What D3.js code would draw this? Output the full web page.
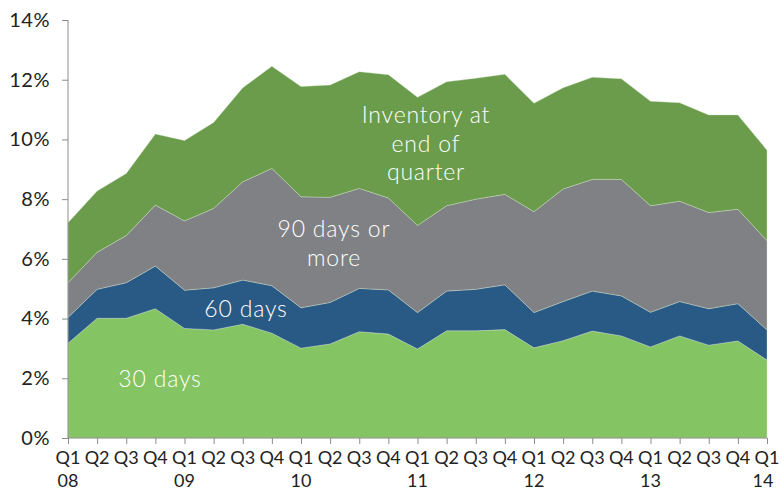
<!DOCTYPE html>
<html lang="en">
<head>
<meta charset="UTF-8">
<title>delinquency stack</title>
<style>
  body { margin: 0; background: #fff; }
  svg text { font-family: "Lato", "DejaVu Sans", sans-serif; }
  .axis path, .axis line { stroke: #8c8c8c; }
</style>
</head>
<body>
<script src="https://d3js.org/d3.v7.min.js"></script>
<svg id="chart"></svg>
<script>
// quarters Q1 08 .. Q1 14
var quarters = ["Q1", "Q2", "Q3", "Q4", "Q1", "Q2", "Q3", "Q4", "Q1", "Q2", "Q3", "Q4",
                "Q1", "Q2", "Q3", "Q4", "Q1", "Q2", "Q3", "Q4", "Q1", "Q2", "Q3", "Q4", "Q1"];
var years = ["08", "", "", "", "09", "", "", "", "10", "", "", "", "11", "", "", "",
             "12", "", "", "", "13", "", "", "", "14"];
var yTicks = [0, 2, 4, 6, 8, 10, 12, 14];

// share of loans (%), one array per layer, bottom to top
var days30 = [3.17, 4.01, 4.01, 4.33, 3.67, 3.62, 3.81, 3.51, 3.01, 3.15, 3.56, 3.48,
              2.98, 3.59, 3.59, 3.63, 3.02, 3.26, 3.58, 3.42, 3.05, 3.42, 3.11, 3.25, 2.61];
var days60 = [0.87, 0.97, 1.19, 1.43, 1.28, 1.41, 1.48, 1.59, 1.35, 1.39, 1.45, 1.48,
              1.22, 1.33, 1.39, 1.50, 1.18, 1.31, 1.34, 1.34, 1.16, 1.15, 1.22, 1.25, 1.01];
var days90 = [1.16, 1.24, 1.58, 2.04, 2.32, 2.66, 3.29, 3.93, 3.72, 3.52, 3.35, 3.08,
              2.92, 2.86, 3.02, 3.03, 3.38, 3.77, 3.74, 3.90, 3.57, 3.36, 3.22, 3.16, 2.99];
var inventory = [2.01, 2.05, 2.08, 2.38, 2.69, 2.88, 3.15, 3.42, 3.69, 3.76, 3.91, 4.13,
                 4.29, 4.15, 4.05, 4.02, 3.63, 3.39, 3.42, 3.37, 3.50, 3.30, 3.27, 3.16, 3.03];

var keys = ["d30", "d60", "d90", "inv"];
var colors = { d30: "#84c462", d60: "#285a85", d90: "#7f8184", inv: "#6a9c4c" };

var rows = quarters.map(function (q, i) {
  return { i: i, d30: days30[i], d60: days60[i], d90: days90[i], inv: inventory[i] };
});

var w = 784, h = 491;
var margin = { left: 68, right: 17, top: 20, bottom: 53 };

var svg = d3.select("#chart").attr("width", w).attr("height", h);

var x = d3.scaleLinear()
  .domain([0, quarters.length - 1])
  .range([margin.left, w - margin.right]);

var y = d3.scaleLinear()
  .domain([0, 14])
  .range([h - margin.bottom, margin.top]);

var series = d3.stack().keys(keys)(rows);

var area = d3.area()
  .x(function (d) { return x(d.data.i); })
  .y0(function (d) { return y(d[0]); })
  .y1(function (d) { return y(d[1]); });

svg.append("g")
  .selectAll("path")
  .data(series)
  .enter().append("path")
  .attr("d", area)
  .attr("fill", function (d) { return colors[d.key]; })
  .attr("stroke", "#d8e8d0")
  .attr("stroke-width", 0.6)
  .attr("stroke-opacity", 0.6);

// y axis
var yAxis = svg.append("g")
  .attr("class", "axis")
  .attr("transform", "translate(" + margin.left + ",0)")
  .call(d3.axisLeft(y).tickValues(yTicks).tickSize(6).tickPadding(12)
    .tickFormat(function (d) { return d + "%"; }));
yAxis.select(".domain").attr("d", "M0," + y(14) + "V" + y(0));
yAxis.selectAll("text")
  .attr("fill", "#222")
  .style("font-size", "20px")
  .style("letter-spacing", "0.5px");

// x axis
var xAxis = svg.append("g")
  .attr("class", "axis")
  .attr("transform", "translate(0," + y(0) + ")")
  .call(d3.axisBottom(x).tickValues(d3.range(quarters.length)).tickSize(6)
    .tickFormat(""));
xAxis.select(".domain").attr("d", "M" + x(0) + ",0H" + x(quarters.length - 1));

var xl = svg.append("g")
  .attr("fill", "#222")
  .style("font-size", "18px");
xl.selectAll("text.q")
  .data(quarters)
  .enter().append("text")
  .attr("class", "q")
  .attr("x", function (d, i) { return x(i); })
  .attr("y", 464)
  .attr("text-anchor", "middle")
  .text(function (d) { return d; });
xl.selectAll("text.yr")
  .data(years)
  .enter().append("text")
  .attr("class", "yr")
  .attr("x", function (d, i) { return x(i) - (i === years.length - 1 ? 4 : 0); })
  .attr("y", 487)
  .attr("text-anchor", "middle")
  .text(function (d) { return d; });

// labels inside the areas
var labels = [
  { lines: ["Inventory at", "end of", "quarter"], cx: 426, y: 123 },
  { lines: ["90 days or", "more"], cx: 334, y: 237 },
  { lines: ["60 days"], cx: 246, y: 317 },
  { lines: ["30 days"], cx: 160, y: 387 }
];
labels.forEach(function (l) {
  var t = svg.append("text")
    .attr("text-anchor", "middle")
    .attr("fill", "#fff")
    .style("font-size", "23px")
    .style("font-weight", 300)
    .style("letter-spacing", "0.8px");
  l.lines.forEach(function (s, k) {
    t.append("tspan")
      .attr("x", l.cx)
      .attr("y", l.y + k * 28.5)
      .text(s);
  });
});
</script>
</body>
</html>
